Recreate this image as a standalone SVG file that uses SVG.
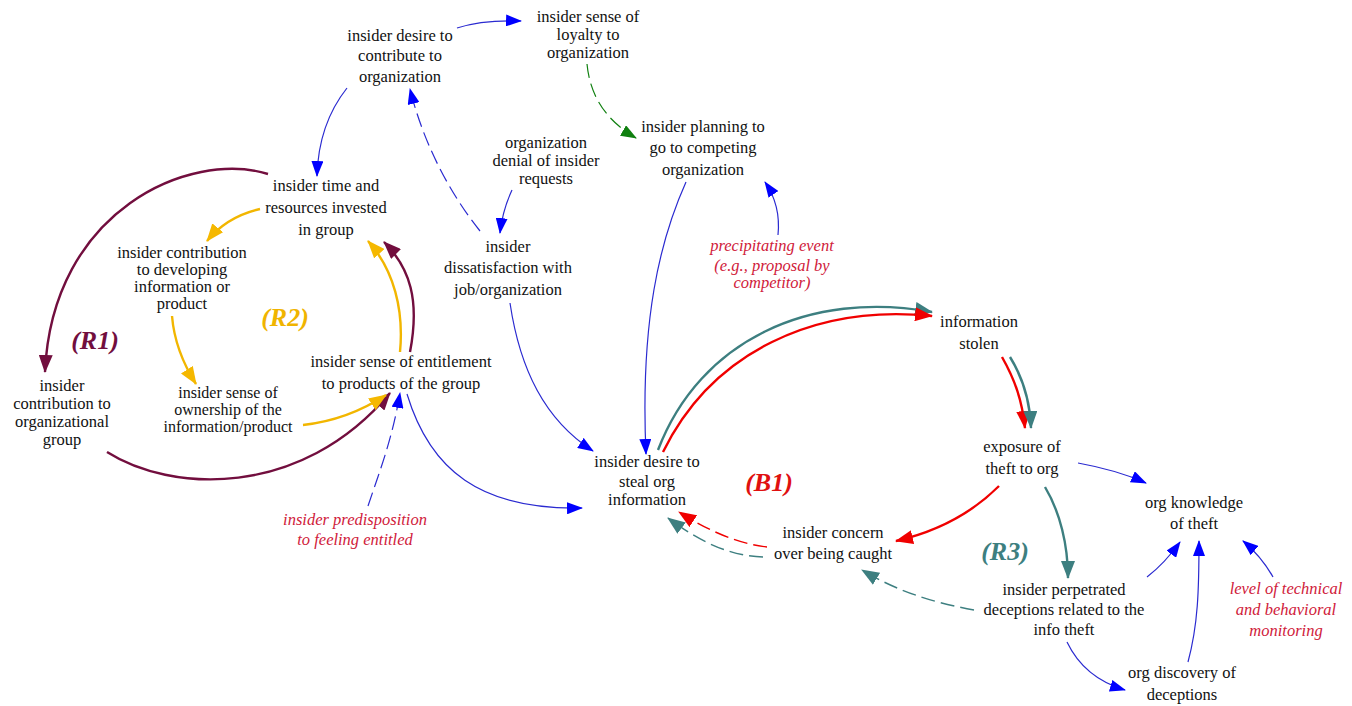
<svg xmlns="http://www.w3.org/2000/svg" width="1352" height="706" viewBox="0 0 1352 706">
  <style>
    .lbl { font-family: "Liberation Serif", "DejaVu Serif", "Noto Serif", serif; font-size: 16.5px; fill: #111; text-anchor: middle; }
    .tight { font-size: 16px; }
    .ext { font-family: "Liberation Serif", "DejaVu Serif", "Noto Serif", serif; font-size: 16.5px; font-style: italic; fill: #d0203a; text-anchor: middle; }
    .loop { font-family: "Liberation Serif", "DejaVu Serif", "Noto Serif", serif; font-size: 26px; font-style: italic; font-weight: bold; text-anchor: middle; }
    .blue { fill: none; stroke: #2a2ad0; stroke-width: 1.2; marker-end: url(#ahBlue); }
    .gold { fill: none; stroke: #f2b600; stroke-width: 2.4; marker-end: url(#ahGold); }
    .plum { fill: none; stroke: #720e3e; stroke-width: 2.4; marker-end: url(#ahPlum); }
    .teal { fill: none; stroke: #3d7f80; stroke-width: 2.4; marker-end: url(#ahTeal); }
    .red { fill: none; stroke: #f00000; stroke-width: 2.4; marker-end: url(#ahRed); }
    .green { fill: none; stroke: #108010; stroke-width: 1.2; marker-end: url(#ahGreen); }
    .dash { stroke-dasharray: 14 6; }
    .thin { stroke-width: 1.4; }
  </style>
  <defs>
    <marker id="ahBlue" markerUnits="userSpaceOnUse" markerWidth="16" markerHeight="12" refX="15" refY="6" orient="auto">
      <path d="M0,0 L16,6 L0,12 Z" fill="#0000ff"/>
    </marker>
    <marker id="ahGold" markerUnits="userSpaceOnUse" markerWidth="18" markerHeight="14" refX="17" refY="7" orient="auto">
      <path d="M0,0 L18,7 L0,14 Z" fill="#f5b800"/>
    </marker>
    <marker id="ahPlum" markerUnits="userSpaceOnUse" markerWidth="18" markerHeight="14" refX="17" refY="7" orient="auto">
      <path d="M0,0 L18,7 L0,14 Z" fill="#720e3e"/>
    </marker>
    <marker id="ahTeal" markerUnits="userSpaceOnUse" markerWidth="18" markerHeight="14" refX="17" refY="7" orient="auto">
      <path d="M0,0 L18,7 L0,14 Z" fill="#3d7f80"/>
    </marker>
    <marker id="ahRed" markerUnits="userSpaceOnUse" markerWidth="18" markerHeight="14" refX="17" refY="7" orient="auto">
      <path d="M0,0 L18,7 L0,14 Z" fill="#f00000"/>
    </marker>
    <marker id="ahGreen" markerUnits="userSpaceOnUse" markerWidth="16" markerHeight="12" refX="15" refY="6" orient="auto">
      <path d="M0,0 L16,6 L0,12 Z" fill="#108010"/>
    </marker>
  </defs>

  <rect width="1352" height="706" fill="#ffffff"/>

  <!-- connectors -->
  <g id="connectors">
    <!-- R1 loop (plum) -->
    <path class="plum" d="M268,174 C190,150 52,210 45,372"/>
    <path class="plum" d="M107,452 C170,492 300,500 390,393"/>
    <path class="plum" d="M410,352 C420,300 410,268 384,242"/>
    <!-- R2 loop (gold) -->
    <path class="gold" d="M400,352 C404,310 394,270 368,241"/>
    <path class="gold" d="M260,209 C238,214 220,225 207,241"/>
    <path class="gold" d="M172,316 C174,340 182,362 196,384"/>
    <path class="gold" d="M303,425 C330,422 360,412 386,395"/>
    <!-- blue links, upper area -->
    <path class="blue" d="M457,28 C475,22 495,20 521,21"/>
    <path class="green dash" d="M587,64 C590,95 605,120 636,138"/>
    <path class="blue" d="M347,88 C328,112 318,140 317,176"/>
    <path class="blue dash" d="M480,231 C455,200 425,150 410,89"/>
    <path class="blue" d="M512,190 C506,203 502,215 500,233"/>
    <path class="blue" d="M686,182 C660,240 640,320 646,454"/>
    <path class="blue" d="M778,235 C780,215 776,198 765,182"/>
    <path class="blue" d="M510,303 C520,370 545,420 593,451"/>
    <path class="blue" d="M407,394 C430,470 480,510 582,508"/>
    <path class="blue dash" d="M368,506 C380,470 392,440 400,393"/>
    <!-- B1 / R3 core -->
    <path class="teal" d="M658,450 C700,340 810,290 932,312"/>
    <path class="red" d="M663,452 C712,352 815,304 932,316"/>
    <path class="red" d="M1002,357 C1015,380 1022,400 1025,428"/>
    <path class="teal" d="M1010,357 C1023,378 1030,400 1031,428"/>
    <path class="blue" d="M1078,463 C1100,467 1124,473 1146,483"/>
    <path class="red" d="M999,486 C970,515 935,532 896,541"/>
    <path class="teal" d="M1045,487 C1060,512 1068,545 1068,578"/>
    <path class="teal dash thin" d="M974,610 C930,602 895,590 862,570"/>
    <path class="red dash thin" d="M767,547 C740,544 710,532 679,512"/>
    <path class="teal dash thin" d="M763,557 C730,556 700,542 668,518"/>
    <!-- org knowledge inputs -->
    <path class="blue" d="M1147,577 C1160,567 1170,556 1180,542"/>
    <path class="blue" d="M1188,662 C1198,625 1199,590 1199,541"/>
    <path class="blue" d="M1273,577 C1265,563 1255,551 1243,541"/>
    <path class="blue" d="M1067,642 C1078,665 1098,682 1125,690"/>
  </g>

  <!-- loop labels -->
  <text class="loop" x="95" y="349" fill="#720e3e">(R1)</text>
  <text class="loop" x="285" y="326" fill="#f0b400">(R2)</text>
  <text class="loop" x="769" y="491" fill="#e01010">(B1)</text>
  <text class="loop" x="1005" y="560" fill="#3d7f80">(R3)</text>

  <!-- nodes -->
  <g id="n_contribute"><text class="lbl"><tspan x="400" y="41">insider desire to</tspan><tspan x="400" y="61">contribute to</tspan><tspan x="400" y="82">organization</tspan></text></g>
  <g id="n_loyalty"><text class="lbl"><tspan x="588" y="22">insider sense of</tspan><tspan x="588" y="40">loyalty to</tspan><tspan x="588" y="58">organization</tspan></text></g>
  <g id="n_denial"><text class="lbl"><tspan x="546" y="148">organization</tspan><tspan x="546" y="166">denial of insider</tspan><tspan x="546" y="184">requests</tspan></text></g>
  <g id="n_planning"><text class="lbl"><tspan x="703" y="132">insider planning to</tspan><tspan x="703" y="153">go to competing</tspan><tspan x="703" y="175">organization</tspan></text></g>
  <g id="n_time"><text class="lbl"><tspan x="326" y="191">insider time and</tspan><tspan x="326" y="213">resources invested</tspan><tspan x="326" y="235">in group</tspan></text></g>
  <g id="n_contrib_dev"><text class="lbl"><tspan x="182" y="258">insider contribution</tspan><tspan x="182" y="275">to developing</tspan><tspan x="182" y="292">information or</tspan><tspan x="182" y="309">product</tspan></text></g>
  <g id="n_dissat"><text class="lbl"><tspan x="508" y="252">insider</tspan><tspan x="508" y="273">dissatisfaction with</tspan><tspan x="508" y="295">job/organization</tspan></text></g>
  <g id="n_precip"><text class="ext"><tspan x="772" y="251">precipitating event</tspan><tspan x="772" y="271">(e.g., proposal by</tspan><tspan x="772" y="288">competitor)</tspan></text></g>
  <g id="n_entitle"><text class="lbl"><tspan x="401" y="367">insider sense of entitlement</tspan><tspan x="401" y="389">to products of the group</tspan></text></g>
  <g id="n_contrib_group"><text class="lbl"><tspan x="62" y="391">insider</tspan><tspan x="62" y="409">contribution to</tspan><tspan x="62" y="427">organizational</tspan><tspan x="62" y="445">group</tspan></text></g>
  <g id="n_ownership"><text class="lbl tight"><tspan x="228" y="398">insider sense of</tspan><tspan x="228" y="415">ownership of the</tspan><tspan x="228" y="432">information/product</tspan></text></g>
  <g id="n_predisposition"><text class="ext"><tspan x="355" y="525">insider predisposition</tspan><tspan x="355" y="545">to feeling entitled</tspan></text></g>
  <g id="n_steal"><text class="lbl"><tspan x="647" y="467">insider desire to</tspan><tspan x="647" y="487">steal org</tspan><tspan x="647" y="505">information</tspan></text></g>
  <g id="n_stolen"><text class="lbl"><tspan x="979" y="327">information</tspan><tspan x="979" y="349">stolen</tspan></text></g>
  <g id="n_exposure"><text class="lbl"><tspan x="1022" y="452">exposure of</tspan><tspan x="1022" y="474">theft to org</tspan></text></g>
  <g id="n_concern"><text class="lbl"><tspan x="833" y="538">insider concern</tspan><tspan x="833" y="559">over being caught</tspan></text></g>
  <g id="n_knowledge"><text class="lbl"><tspan x="1194" y="508">org knowledge</tspan><tspan x="1194" y="529">of theft</tspan></text></g>
  <g id="n_perpetrated"><text class="lbl"><tspan x="1064" y="595">insider perpetrated</tspan><tspan x="1064" y="615">deceptions related to the</tspan><tspan x="1064" y="635">info theft</tspan></text></g>
  <g id="n_discovery"><text class="lbl"><tspan x="1182" y="678">org discovery of</tspan><tspan x="1182" y="700">deceptions</tspan></text></g>
  <g id="n_monitoring"><text class="ext"><tspan x="1286" y="594">level of technical</tspan><tspan x="1286" y="615">and behavioral</tspan><tspan x="1286" y="636">monitoring</tspan></text></g>
</svg>
